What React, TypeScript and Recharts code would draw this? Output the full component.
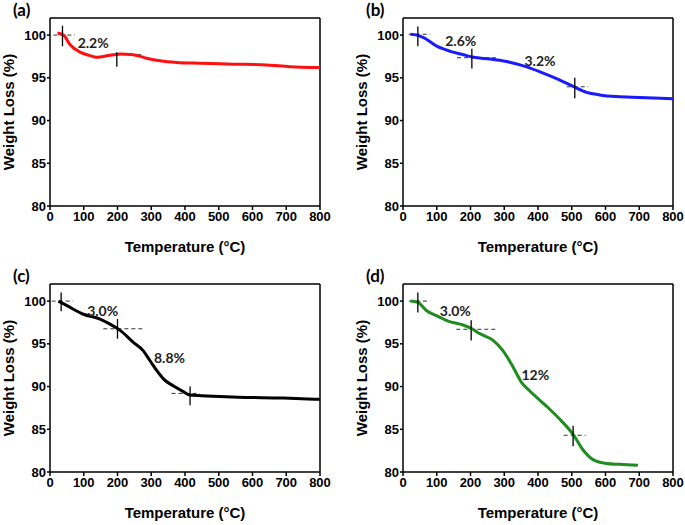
import React from "react";
import {
    LineChart,
    Line,
    XAxis,
    YAxis,
    ReferenceLine,
    ReferenceDot,
    Label
} from "recharts";

// shared axis ticks
const tempTicks = [0, 100, 200, 300, 400, 500, 600, 700, 800];
const weightTicks = [80, 85, 90, 95, 100];

// (a) red
const aTemp = [22, 40, 59, 89, 118, 138, 158, 188, 207, 247, 286, 326, 375, 444, 543, 642, 711, 800];
const aWeight = [100.24, 100.0, 98.9, 98.0, 97.6, 97.4, 97.5, 97.7, 97.8, 97.7, 97.3, 97.0, 96.8, 96.7, 96.6, 96.5, 96.3, 96.2];
const aMarks = [{ t: 37, hi: 101.1, lo: 98.7 }, { t: 198, hi: 98.0, lo: 96.3 }];
const aDashes = [{ from: 10, to: 74, w: 100 }, { from: 175, to: 275, w: 97.7 }];
const aNotes = [{ t: 128, w: 99.1, text: "2.2%" }];

// (b) blue
const bTemp = [22, 41, 61, 100, 140, 179, 209, 258, 307, 357, 406, 455, 504, 544, 583, 632, 701, 800];
const bWeight = [100.1, 100.0, 99.7, 98.7, 98.1, 97.7, 97.4, 97.2, 96.9, 96.4, 95.7, 94.9, 94.0, 93.3, 93.0, 92.8, 92.7, 92.55];
const bMarks = [{ t: 44, hi: 101.0, lo: 98.7 }, { t: 204, hi: 98.4, lo: 96.1 }, { t: 509, hi: 95.0, lo: 92.6 }];
const bDashes = [{ from: 17, to: 81, w: 100.1 }, { from: 160, to: 283, w: 97.35 }, { from: 485, to: 549, w: 93.95 }];
const bNotes = [{ t: 171, w: 99.3, text: "2.6%" }, { t: 406, w: 96.96, text: "3.2%" }];

// (c) black
const cTemp = [25, 49, 99, 148, 178, 207, 247, 276, 296, 316, 336, 365, 395, 415, 464, 558, 691, 800];
const cWeight = [100.0, 99.5, 98.46, 97.9, 97.3, 96.6, 95.18, 94.2, 93.05, 91.9, 90.9, 90.08, 89.4, 89.0, 88.9, 88.76, 88.65, 88.5];
const cMarks = [{ t: 33, hi: 101.0, lo: 98.8 }, { t: 200, hi: 97.9, lo: 95.6 }, { t: 415, hi: 90.0, lo: 87.8 }];
const cDashes = [{ from: 5, to: 69, w: 100 }, { from: 158, to: 277, w: 96.76 }, { from: 360, to: 444, w: 89.2 }];
const cNotes = [{ t: 156, w: 98.84, text: "3.0%" }, { t: 354, w: 93.36, text: "8.8%" }];

// (d) green
const dTemp = [22, 44, 69, 99, 138, 178, 207, 227, 267, 296, 326, 351, 375, 425, 464, 504, 533, 563, 603, 642, 696];
const dWeight = [100.0, 99.85, 98.9, 98.3, 97.6, 97.2, 96.7, 96.2, 95.4, 94.2, 92.3, 90.5, 89.5, 87.7, 86.2, 84.4, 82.6, 81.45, 81.0, 80.9, 80.8];
const dMarks = [{ t: 44, hi: 101.0, lo: 98.66 }, { t: 202, hi: 97.76, lo: 95.4 }, { t: 504, hi: 85.4, lo: 83.0 }];
const dDashes = [{ from: 18, to: 81, w: 100 }, { from: 158, to: 281, w: 96.7 }, { from: 476, to: 541, w: 84.3 }];
const dNotes = [{ t: 155, w: 98.8, text: "3.0%" }, { t: 392, w: 91.3, text: "12%" }];

const axisFont = { fontFamily: "'Liberation Sans', Arial, sans-serif", fontWeight: "bold" as const };
const noteFont = "Lato, 'Open Sans', sans-serif";

function Panel({ tag, left, top, temps, weights, color, marks, dashes, notes }: any) {
    const rows = temps.map((t: number, i: number) => ({ t, w: weights[i] }));

    return (
        <div style={{ position: "absolute", left, top }}>
            <div style={{ position: "absolute", left: 13, top: 1, fontFamily: noteFont, fontWeight: "bold", fontSize: 17, lineHeight: "17px" }}>
                {tag}
            </div>
            <LineChart width={335} height={263} data={rows} margin={{ top: 18, right: 15, left: 0, bottom: 0 }}>
                <XAxis
                    dataKey="t"
                    type="number"
                    domain={[0, 800]}
                    ticks={tempTicks}
                    height={57}
                    stroke="#000"
                    strokeWidth={1.5}
                    tickSize={4}
                    tick={{ ...axisFont, fontSize: 13, fill: "#000" }}
                >
                    <Label value="Temperature (°C)" position="center" dy={12} style={{ ...axisFont, fontSize: 15, fill: "#000" }} />
                </XAxis>
                <YAxis
                    type="number"
                    domain={[80, 102]}
                    ticks={weightTicks}
                    allowDataOverflow
                    width={50}
                    stroke="#000"
                    strokeWidth={1.5}
                    tickSize={3}
                    tickMargin={1}
                    tick={{ ...axisFont, fontSize: 13, fill: "#000" }}
                >
                    <Label value="Weight Loss (%)" angle={-90} position="center" dx={-16} style={{ ...axisFont, fontSize: 15, fill: "#000" }} />
                </YAxis>

                <ReferenceLine y={102} stroke="#000" strokeWidth={1.5} />
                <ReferenceLine x={800} stroke="#000" strokeWidth={1.5} />

                {dashes.map((d: any, i: number) => (
                    <ReferenceLine
                        key={"d" + i}
                        segment={[{ x: d.from, y: d.w }, { x: d.to, y: d.w }]}
                        stroke="#333"
                        strokeWidth={1}
                        strokeDasharray="4 3"
                    />
                ))}

                <Line
                    dataKey="w"
                    type="monotone"
                    stroke={color}
                    strokeWidth={3}
                    dot={false}
                    isAnimationActive={false}
                />

                {marks.map((m: any, i: number) => (
                    <ReferenceLine
                        key={"m" + i}
                        segment={[{ x: m.t, y: m.hi }, { x: m.t, y: m.lo }]}
                        stroke="#000"
                        strokeWidth={1.3}
                    />
                ))}

                {notes.map((n: any, i: number) => (
                    <ReferenceDot
                        key={"n" + i}
                        x={n.t}
                        y={n.w}
                        r={0}
                        fill="none"
                        stroke="none"
                        label={{ value: n.text, position: "center", fill: "#222", fontFamily: noteFont, fontWeight: "bold", fontSize: 14 }}
                    />
                ))}
            </LineChart>
        </div>
    );
}

export default function App() {
    return (
        <div style={{ position: "absolute", left: 0, top: 0, width: 685, height: 525, background: "#fff", overflow: "hidden" }}>
            <Panel tag="(a)" left={0} top={0} temps={aTemp} weights={aWeight} color="#ff1010" marks={aMarks} dashes={aDashes} notes={aNotes} />
            <Panel tag="(b)" left={353} top={0} temps={bTemp} weights={bWeight} color="#1a1aff" marks={bMarks} dashes={bDashes} notes={bNotes} />
            <Panel tag="(c)" left={0} top={266} temps={cTemp} weights={cWeight} color="#000000" marks={cMarks} dashes={cDashes} notes={cNotes} />
            <Panel tag="(d)" left={353} top={266} temps={dTemp} weights={dWeight} color="#1e8c1e" marks={dMarks} dashes={dDashes} notes={dNotes} />
        </div>
    );
}
